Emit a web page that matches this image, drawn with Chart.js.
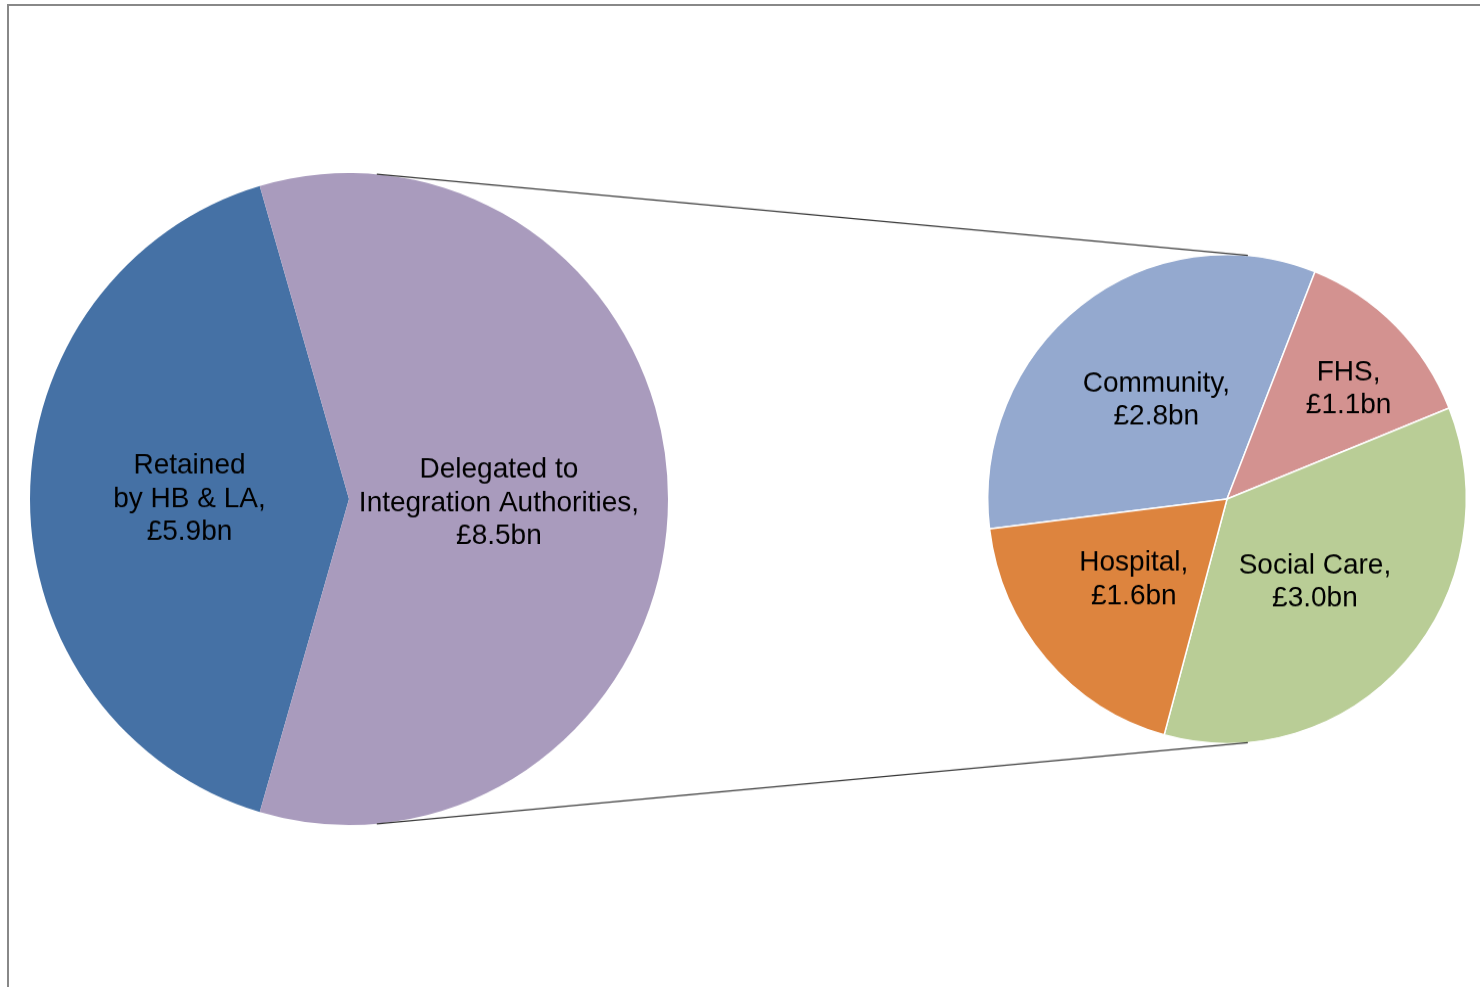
<!DOCTYPE html>
<html>
<head>
<meta charset="utf-8">
<script src="https://cdn.jsdelivr.net/npm/chart.js@4/dist/chart.umd.min.js"></script>
<style>
  html, body { margin:0; padding:0; background:#fff; width:1480px; height:987px; overflow:hidden; }
  #frame { position:absolute; left:7px; top:4px; width:1473px; height:983px; border-top:2px solid #888; border-left:2px solid #888; box-sizing:border-box; }
  canvas { position:absolute; left:0; top:0; transform-origin:0 499px; transform:scaleY(1.022); }
</style>
</head>
<body>
<div id="frame"></div>
<canvas id="left" width="1480" height="987"></canvas>
<canvas id="right" width="1480" height="987"></canvas>
<script>
// ---- data ----
const leftLabels = [['Retained', 'by HB & LA,'], ['Delegated to', 'Integration Authorities,']];
const leftValues = [5.9, 8.5];
const leftColors = ['#4571A5', '#A99BBD'];

const rightLabels = [['Community,'], ['FHS,'], ['Social Care,'], ['Hospital,']];
const rightValues = [2.8, 1.1, 3.0, 1.6];
const rightColors = ['#94A9CF', '#D39290', '#B9CD96', '#DD843E'];

// ---- label plugin ----
const sliceLabels = {
  id: 'sliceLabels',
  afterDatasetsDraw(chart, args, opts) {
    const ctx = chart.ctx;
    const meta = chart.getDatasetMeta(0);
    const ds = chart.data.datasets[0];
    ctx.save();
    ctx.font = opts.size + 'px "Liberation Sans", Arial, sans-serif';
    ctx.fillStyle = '#000';
    ctx.textAlign = 'center';
    ctx.textBaseline = 'middle';
    meta.data.forEach((arc, i) => {
      const p = arc.getProps(['x', 'y', 'startAngle', 'endAngle', 'outerRadius'], true);
      const mid = (p.startAngle + p.endAngle) / 2 + (opts.nudge[i] || 0) * Math.PI / 180;
      const r = p.outerRadius * opts.radius[i];
      const cx = p.x + Math.cos(mid) * r;
      const cy = p.y + Math.sin(mid) * r + (opts.dy[i] || 0);
      const lines = [...chart.data.labels[i], '£' + ds.data[i].toFixed(1) + 'bn'];
      lines.forEach((t, k) => ctx.fillText(t, cx, cy + (k - (lines.length - 1) / 2) * opts.lineHeight));
    });
    ctx.restore();
  }
};

const sum = a => a.reduce((s, v) => s + v, 0);
const leftShare = leftValues[0] / sum(leftValues);

const leftChart = new Chart(document.getElementById('left'), {
  type: 'pie',
  data: { labels: leftLabels, datasets: [{ data: leftValues, backgroundColor: leftColors, borderWidth: 0 }] },
  options: {
    responsive: false, animation: false,
    rotation: 270 - leftShare * 180,
    layout: { padding: { left: 30, right: 812, top: 180, bottom: 169 } },
    plugins: {
      legend: { display: false }, tooltip: { enabled: false },
      sliceLabels: { size: 28, lineHeight: 32.3, radius: [0.5, 0.47], nudge: [0, 0], dy: [0, 4] }
    }
  },
  plugins: [sliceLabels]
});

// ---- connector lines ----
const connectors = {
  id: 'connectors',
  afterDraw(chart) {
    const L = leftChart.getDatasetMeta(0).data[0];
    const R = chart.getDatasetMeta(0).data[0];
    const pt = (a, deg) => {
      const t = deg * Math.PI / 180;
      return [a.x + a.outerRadius * Math.sin(t), a.y - a.outerRadius * Math.cos(t)];
    };
    const ctx = chart.ctx;
    ctx.save();
    ctx.strokeStyle = '#3a3a3a';
    ctx.lineWidth = 1.2;
    [5, 175].forEach(d => {
      const p1 = pt(L, d), p2 = pt(R, d);
      ctx.beginPath();
      ctx.moveTo(p1[0], p1[1]);
      ctx.lineTo(p2[0], p2[1]);
      ctx.stroke();
    });
    ctx.restore();
  }
};

new Chart(document.getElementById('right'), {
  type: 'pie',
  data: { labels: rightLabels, datasets: [{ data: rightValues, backgroundColor: rightColors, borderColor: '#fff', borderWidth: 1.5 }] },
  options: {
    responsive: false, animation: false,
    rotation: -97,
    layout: { padding: { left: 987, right: 13, top: 259, bottom: 248 } },
    plugins: {
      legend: { display: false }, tooltip: { enabled: false },
      sliceLabels: { size: 28, lineHeight: 32.3, radius: [0.5, 0.68, 0.5, 0.51], nudge: [1.5, 3.5, 1, 0.7], dy: [0, 0, 0, 0] }
    }
  },
  plugins: [sliceLabels, connectors]
});
</script>
</body>
</html>
